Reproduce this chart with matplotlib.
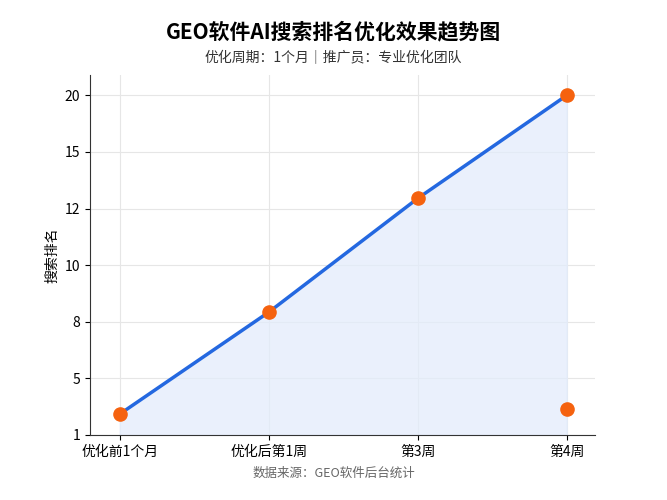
import matplotlib
matplotlib.use("Agg")
import matplotlib.pyplot as plt
import numpy as np

plt.rcParams['font.family'] = ['Noto Sans CJK SC', 'DejaVu Sans']

categories = ["优化前1个月", "优化后第1周", "第3周", "第4周"]
rank_pos = [0.37, 2.17, 4.18, 6.0]      # position on the (evenly spaced) rank axis
extra_cat = 3
extra_pos = 0.46
ytick_labels = ["1", "5", "8", "10", "12", "15", "20"]

fig = plt.figure(figsize=(6.67, 5.0), dpi=100)
ax = fig.add_axes([90/667, 1-435/500, (595-90)/667, (435-75)/500])

x = np.arange(len(categories))
ax.fill_between(x, rank_pos, 0, color="#e3ecfb", alpha=0.75, zorder=1)
ax.plot(x, rank_pos, color="#2468e0", lw=2.5, zorder=3)
ax.scatter(x, rank_pos, s=90, color="#f5620f", zorder=4)
ax.scatter([extra_cat], [extra_pos], s=90, color="#f5620f", zorder=4)

ax.set_xlim(-0.2, 3.19)
ax.set_ylim(0, 6.36)
ax.set_xticks(x)
ax.set_xticklabels(categories, fontsize=10)
ax.set_yticks(range(len(ytick_labels)))
ax.set_yticklabels(ytick_labels, fontsize=10)
ax.set_ylabel("搜索排名", fontsize=10)
ax.grid(True, color="#e6e6e6", lw=0.8)
ax.set_axisbelow(True)
for s in ["top", "right"]:
    ax.spines[s].set_visible(False)
ax.spines["left"].set_color("#333333")
ax.spines["bottom"].set_color("#333333")

fig.text(0.5, 1-32/500, "GEO软件AI搜索排名优化效果趋势图", ha="center", va="center",
         fontsize=15, fontweight="bold")
fig.text(0.5, 1-58/500, "优化周期：1个月｜推广员：专业优化团队", ha="center", va="center",
         fontsize=10, color="#333333")
fig.text(0.5, 1-473/500, "数据来源：GEO软件后台统计", ha="center", va="center",
         fontsize=9, color="#666666")

fig.savefig("out.png", dpi=100)
